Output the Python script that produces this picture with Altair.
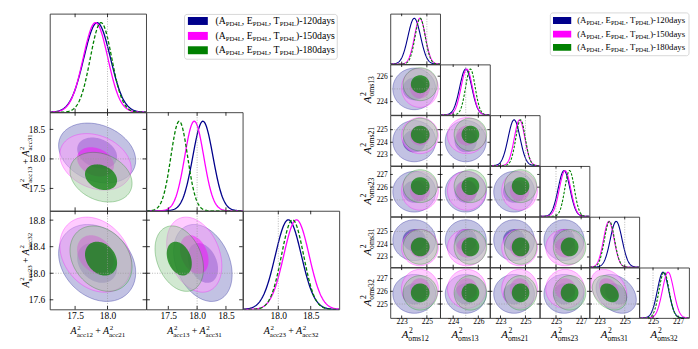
import numpy as np
import pandas as pd
import altair as alt

FONT = "Liberation Serif"

# ---------------- data ----------------
SERIES = ["120days", "150days", "180days"]

# left triangle: A^2_acc parameters
ACC_NAMES = [["acc12", "acc21"], ["acc13", "acc31"], ["acc23", "acc32"]]
ACC_RANGE = [[17.11, 18.595], [17.12, 18.79], [17.455, 18.94]]
ACC_XTICKS = [[17.5, 18.0], [17.5, 18.0, 18.5], [18.0, 18.5]]
ACC_YTICKS = [[], [17.5, 18.0, 18.5], [17.6, 18.0, 18.4, 18.8]]
ACC_TRUE = 18.0
ACC_MEAN = [[17.84, 18.10, 18.155],   # 120days
            [17.815, 17.95, 18.28],   # 150days
            [17.90, 17.69, 18.22]]    # 180days
ACC_SD = [[0.205, 0.175, 0.20],
          [0.19, 0.165, 0.195],
          [0.165, 0.145, 0.17]]
ACC_RHO = [[0, 0, 0], [-0.25, 0, 0], [-0.25, -0.3, 0]]

# right triangle: A^2_oms parameters
OMS_NAMES = [["oms12"], ["oms13"], ["oms21"], ["oms23"], ["oms31"], ["oms32"]]
OMS_RANGE = [[222.1, 226.05], [222.96, 226.92], [222.15, 226.14],
             [223.7, 227.66], [222.2, 226.15], [223.9, 227.87]]
OMS_XTICKS = [[223, 225], [224, 226], [223, 225], [225, 227], [223, 225], [225, 227]]
OMS_YTICKS = [[], [224, 226], [223, 224, 225], [225, 226, 227], [223, 224, 225], [225, 226, 227]]
OMS_TRUE = 225.0
OMS_MEAN = [[224.0, 225.0, 224.09, 225.64, 224.32, 225.8],
            [224.45, 225.08, 224.53, 225.72, 223.74, 226.2],
            [224.47, 225.37, 224.61, 226.08, 223.79, 225.88]]
OMS_SD = [[0.50, 0.48, 0.48, 0.47, 0.47, 0.45],
          [0.43, 0.45, 0.42, 0.45, 0.42, 0.45],
          [0.40, 0.38, 0.38, 0.38, 0.40, 0.40]]
OMS_RHO = [[0] * 6 for _ in range(6)]
OMS_RHO[5][4] = -0.3

LEGEND_SUB = "PD4L"
LEGEND_LETTERS = ["A", "E", "T"]

# ---------------- styles ----------------
COLORS = ["#00008B", "#FF00FF", "#008000"]
OUTER_OP = [0.6, 0.5, 0.45]
INNER_OP = [0.42, 0.45, 0.72]
TRUTH_COLOR = "#999999"

W_REG = {'(': 333, ')': 333, 'A': 722, 'E': 611, 'T': 611, 'P': 556, 'D': 722, 'L': 611,
         ',': 250, ' ': 250, '-': 333, '+': 564, 'a': 444, 'c': 444, 'd': 500, 'y': 500,
         's': 389, 'o': 500, 'm': 778}
W_ITAL = {'A': 611}


def tw(text, size, italic=False):
    tot = 0
    for ch in text:
        if italic and ch in W_ITAL:
            tot += W_ITAL[ch]
        else:
            tot += W_REG.get(ch, 500)
    return tot * size / 1000.0


def pale(hexc, f=0.6):
    r, g, b = int(hexc[1:3], 16), int(hexc[3:5], 16), int(hexc[5:7], 16)
    return "#%02x%02x%02x" % tuple(int(round(v * (1 - f) + 255 * f)) for v in (r, g, b))


ONE = pd.DataFrame({"k": [0]})


def text_layer(txt, size, x, y, italic=False, angle=0):
    kw = dict(text=txt, font=FONT, fontSize=size, align="left", baseline="alphabetic", color="black")
    if italic:
        kw["fontStyle"] = "italic"
    if angle:
        kw["angle"] = angle
    return alt.Chart(ONE).mark_text(**kw).encode(x=alt.value(x), y=alt.value(y))


def title_pieces(subs, f, s, sup_dy, sub_dy):
    pieces = []
    u = 0.0
    for n, sb in enumerate(subs):
        if n > 0:
            gap = 0.22 * f
            u += gap
            pieces.append(("+", f, u, 0.0, False))
            u += tw("+", f) + gap
        pieces.append(("A", f, u, 0.0, True))
        wa = tw("A", f, True)
        pieces.append(("2", s, u + wa + 0.06 * f, sup_dy, False))
        pieces.append((sb, s, u + wa, sub_dy, False))
        u += wa + max(tw("2", s) + 0.06 * f, tw(sb, s))
    return pieces, u


def xtitle_layers(c, subs):
    pieces, tot = title_pieces(subs, c["tf"], c["ts"], c["sup"], c["sub"])
    x0 = c["W"] / 2 - tot / 2
    yb = c["H"] + c["xt_base"]
    return [text_layer(t, sz, x0 + u, yb + dy, it) for (t, sz, u, dy, it) in pieces]


def ytitle_layers(c, subs):
    pieces, tot = title_pieces(subs, c["tf"], c["ts"], c["sup"], c["sub"])
    y0 = c["H"] / 2 + tot / 2
    xb = c["yt_base"]
    return [text_layer(t, sz, xb + dy, y0 - u, it, angle=270) for (t, sz, u, dy, it) in pieces]


def axis_enc(cls, field, dom, ticks, show, c, which):
    if show:
        ax = alt.Axis(values=ticks, format=c["fmt"], title=None, ticks=False, domain=False, grid=False,
                      labelFont=FONT, labelFontSize=c["lab"], labelColor="black",
                      labelPadding=c["xpad"] if which == "x" else c["ypad"],
                      labelOverlap=False, labelFlush=False)
    else:
        ax = None
    return cls(field, scale=alt.Scale(domain=list(dom), nice=False, zero=False), axis=ax)


def ellipse(mx, my, sx, sy, rho, k, n=72):
    t = np.linspace(0, np.pi, n)
    s = np.sqrt(1 - rho ** 2)
    x = mx + k * sx * np.cos(t)
    yhi = my + k * sy * (rho * np.cos(t) + s * np.sin(t))
    ylo = my + k * sy * (rho * np.cos(t) - s * np.sin(t))
    return pd.DataFrame({"x": x, "yhi": yhi, "ylo": ylo})


def tick_layers(c, X=None, Y=None, xt=None, yt=None):
    W, H, L = c["W"], c["H"], c["tick"]
    out = []
    if X is not None and xt:
        d = pd.DataFrame({"t": xt})
        out.append(alt.Chart(d).mark_rule(color="black", strokeWidth=0.8).encode(
            x=X("t:Q"), y=alt.value(H), y2=alt.value(H - L)))
        out.append(alt.Chart(d).mark_rule(color="black", strokeWidth=0.8).encode(
            x=X("t:Q"), y=alt.value(0), y2=alt.value(L)))
    if Y is not None and yt:
        d = pd.DataFrame({"t": yt})
        out.append(alt.Chart(d).mark_rule(color="black", strokeWidth=0.8).encode(
            y=Y("t:Q"), x=alt.value(0), x2=alt.value(L)))
        out.append(alt.Chart(d).mark_rule(color="black", strokeWidth=0.8).encode(
            y=Y("t:Q"), x=alt.value(W), x2=alt.value(W - L)))
    return out


def panel2d(c, i, j):
    n = len(c["names"])
    X = lambda f: axis_enc(alt.X, f, c["rng"][j], c["xt"][j], i == n - 1, c, "x")
    Y = lambda f: axis_enc(alt.Y, f, c["rng"][i], c["yt"][i], j == 0, c, "y")
    layers = []
    for s in range(3):
        mx, my = c["mean"][s][j], c["mean"][s][i]
        sx, sy = c["sd"][s][j], c["sd"][s][i]
        rho = c["rho"][i][j]
        for k, fill, op, sop in ((c["k95"], pale(COLORS[s]), OUTER_OP[s], 0.6),
                                 (c["k68"], COLORS[s], INNER_OP[s], 0.0)):
            df = ellipse(mx, my, sx, sy, rho, k)
            layers.append(alt.Chart(df).mark_area(
                clip=True, fill=fill, fillOpacity=op, stroke=COLORS[s],
                strokeWidth=0.5, strokeOpacity=sop).encode(
                x=X("x:Q"), y=Y("yhi:Q"), y2=alt.Y2("ylo")))
    tr = pd.DataFrame({"v": [c["true"]]})
    layers.append(alt.Chart(tr).mark_rule(color=TRUTH_COLOR, strokeWidth=0.7, strokeDash=[1, 1.5]).encode(x=X("v:Q")))
    layers.append(alt.Chart(tr).mark_rule(color=TRUTH_COLOR, strokeWidth=0.7, strokeDash=[1, 1.5]).encode(y=Y("v:Q")))
    layers += tick_layers(c, X=X, Y=Y, xt=c["xt"][j], yt=c["yt"][i])
    if i == n - 1:
        layers += xtitle_layers(c, c["names"][j])
    if j == 0:
        layers += ytitle_layers(c, c["names"][i])
    return alt.layer(*layers).properties(width=c["W"], height=c["H"])


def panel1d(c, j):
    n = len(c["names"])
    X = lambda f: axis_enc(alt.X, f, c["rng"][j], c["xt"][j], j == n - 1, c, "x")
    lo, hi = c["rng"][j]
    xs = np.linspace(lo, hi, 160)
    layers = []
    for s in range(3):
        mu, sd = c["mean"][s][j], c["sd"][s][j]
        df = pd.DataFrame({"x": xs, "p": np.exp(-0.5 * ((xs - mu) / sd) ** 2)})
        kw = dict(clip=True, color=COLORS[s], strokeWidth=c["lw"])
        if s == 2:
            kw["strokeDash"] = c["dash"]
        layers.append(alt.Chart(df).mark_line(**kw).encode(
            x=X("x:Q"), y=alt.Y("p:Q", scale=alt.Scale(domain=[0, 1.1], nice=False, zero=False), axis=None)))
    tr = pd.DataFrame({"v": [c["true"]]})
    layers.append(alt.Chart(tr).mark_rule(color=TRUTH_COLOR, strokeWidth=0.7, strokeDash=[1, 1.5]).encode(x=X("v:Q")))
    layers += tick_layers(c, X=X, xt=c["xt"][j])
    if j == n - 1:
        layers += xtitle_layers(c, c["names"][j])
    return alt.layer(*layers).properties(width=c["W"], height=c["H"])


def legend_cell(c):
    L = c["leg"]
    x1, x2, y1, y2 = L["box"]
    layers = [
        alt.Chart(ONE).mark_rule(color="white", strokeWidth=1).encode(
            x=alt.value(x1 + 5), x2=alt.value(x1 + 6), y=alt.value(L["top"] + 0.5), y2=alt.value(L["top"] + 0.5)),
        alt.Chart(ONE).mark_rect(fill="white", stroke="#cccccc", strokeWidth=0.8, cornerRadius=2.5).encode(
            x=alt.value(x1), x2=alt.value(x2), y=alt.value(y1), y2=alt.value(y2)),
    ]
    f, s = L["f"], L["s"]
    for si, name in enumerate(SERIES):
        yc = L["rows"][si]
        layers.append(alt.Chart(ONE).mark_rect(fill=COLORS[si]).encode(
            x=alt.value(L["sw"][0]), x2=alt.value(L["sw"][1]),
            y=alt.value(yc - L["swh"] / 2), y2=alt.value(yc + L["swh"] / 2)))
        yb = yc + 0.33 * f
        u = L["tx"]
        for li, letter in enumerate(LEGEND_LETTERS):
            main = ("(" if li == 0 else ", ") + letter
            layers.append(text_layer(main, f, u, yb))
            u += tw(main, f)
            layers.append(text_layer(LEGEND_SUB, s, u, yb + 0.2 * f))
            u += tw(LEGEND_SUB, s)
        layers.append(text_layer(")-" + name, f, u, yb))
    return alt.layer(*layers).properties(width=c["W"], height=c["H"],
                                         view=alt.ViewBackground(stroke="transparent"))


def empty_cell(c):
    return alt.Chart(ONE).mark_point(opacity=0).encode(x=alt.value(0), y=alt.value(0)).properties(
        width=c["W"], height=c["H"], view=alt.ViewBackground(stroke="transparent"))


def build_grid(c):
    n = len(c["names"])
    cells = []
    for i in range(n):
        for j in range(n):
            if i == j:
                cells.append(panel1d(c, i))
            elif i > j:
                cells.append(panel2d(c, i, j))
            elif i == 0 and j == 1:
                cells.append(legend_cell(c))
            else:
                cells.append(empty_cell(c))
    return alt.concat(*cells, columns=n, spacing=0, bounds="flush")


LEFT = dict(names=ACC_NAMES, rng=ACC_RANGE, xt=ACC_XTICKS, yt=ACC_YTICKS, true=ACC_TRUE,
            mean=ACC_MEAN, sd=ACC_SD, rho=ACC_RHO,
            W=96.7, H=99.0, k68=1.5, k95=2.9, lab=9.5, xpad=1.5, ypad=5, fmt=".1f",
            tf=10.0, ts=7.0, xt_base=25.0, yt_base=-21.0, sup=-4.8, sub=2.8,
            tick=3.5, lw=1.3, dash=[3.5, 2.0],
            leg=dict(box=(38.3, 191.7, 0.7, 45.7), sw=(41.7, 61.7), rows=(7.3, 22.3, 36.7),
                     swh=8.0, tx=69.3, f=9.8, s=6.8, top=-2.3))

RIGHT = dict(names=OMS_NAMES, rng=OMS_RANGE, xt=OMS_XTICKS, yt=OMS_YTICKS, true=OMS_TRUE,
             mean=OMS_MEAN, sd=OMS_SD, rho=OMS_RHO,
             W=50.0, H=50.6, k68=1.85, k95=3.4, lab=7.5, xpad=0.0, ypad=3, fmt="d",
             tf=11.0, ts=7.7, xt_base=20.0, yt_base=-19.8, sup=-5.0, sub=3.0,
             tick=2.5, lw=1.1, dash=[2.5, 1.5],
             leg=dict(box=(110.7, 250.0, -0.8, 42.2), sw=(113.4, 131.7), rows=(6.8, 20.5, 33.8),
                      swh=7.0, tx=137.7, f=8.8, s=6.2, top=-0.8))

left = build_grid(LEFT)
right = build_grid(RIGHT)

chart = alt.hconcat(left, right, spacing=18).properties(
    padding={"left": 9, "top": 1, "right": 0, "bottom": 0}, background="white"
).configure_view(stroke="#333333", strokeWidth=0.9)

chart.save("out.html", embed_options={"renderer": "svg", "actions": False})
